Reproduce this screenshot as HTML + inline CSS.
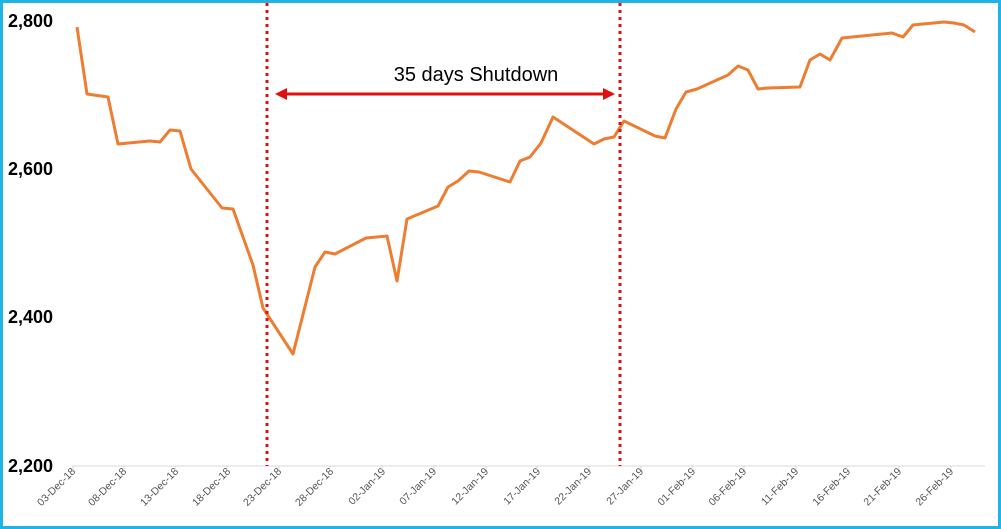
<!DOCTYPE html>
<html><head><style>
html,body{margin:0;padding:0;background:#fff}
svg{display:block}
</style></head><body>
<svg width="1001" height="529" xmlns="http://www.w3.org/2000/svg" font-family="Liberation Sans, Arial, sans-serif">
<rect x="1.5" y="1.5" width="998" height="526" fill="#fff" stroke="#1fb3e6" stroke-width="3"/>
<g font-weight="bold" font-size="18" fill="#000">
<text x="8" y="27">2,800</text>
<text x="8" y="175">2,600</text>
<text x="8" y="323">2,400</text>
<text x="8" y="472">2,200</text>
</g>
<line x1="72" y1="466" x2="985" y2="466" stroke="#d9d9d9" stroke-width="1"/>
<g font-size="10.5" fill="#555" text-anchor="end">
<g id="t"></g>
<text transform="translate(76,472) rotate(-45)">03-Dec-18</text>
<text transform="translate(127,472) rotate(-45)">08-Dec-18</text>
<text transform="translate(179,472) rotate(-45)">13-Dec-18</text>
<text transform="translate(231,472) rotate(-45)">18-Dec-18</text>
<text transform="translate(282,472) rotate(-45)">23-Dec-18</text>
<text transform="translate(334,472) rotate(-45)">28-Dec-18</text>
<text transform="translate(386,472) rotate(-45)">02-Jan-19</text>
<text transform="translate(437,472) rotate(-45)">07-Jan-19</text>
<text transform="translate(489,472) rotate(-45)">12-Jan-19</text>
<text transform="translate(541,472) rotate(-45)">17-Jan-19</text>
<text transform="translate(592,472) rotate(-45)">22-Jan-19</text>
<text transform="translate(644,472) rotate(-45)">27-Jan-19</text>
<text transform="translate(696,472) rotate(-45)">01-Feb-19</text>
<text transform="translate(747,472) rotate(-45)">06-Feb-19</text>
<text transform="translate(799,472) rotate(-45)">11-Feb-19</text>
<text transform="translate(851,472) rotate(-45)">16-Feb-19</text>
<text transform="translate(902,472) rotate(-45)">21-Feb-19</text>
<text transform="translate(954,472) rotate(-45)">26-Feb-19</text>
</g>
<g stroke="#d9d9d9">
<line x1="73" y1="466" x2="73" y2="470"/><line x1="124" y1="466" x2="124" y2="470"/><line x1="175" y1="466" x2="175" y2="470"/><line x1="227" y1="466" x2="227" y2="470"/><line x1="279" y1="466" x2="279" y2="470"/><line x1="330" y1="466" x2="330" y2="470"/><line x1="382" y1="466" x2="382" y2="470"/><line x1="434" y1="466" x2="434" y2="470"/><line x1="486" y1="466" x2="486" y2="470"/><line x1="537" y1="466" x2="537" y2="470"/><line x1="589" y1="466" x2="589" y2="470"/><line x1="641" y1="466" x2="641" y2="470"/><line x1="692" y1="466" x2="692" y2="470"/><line x1="744" y1="466" x2="744" y2="470"/><line x1="796" y1="466" x2="796" y2="470"/><line x1="847" y1="466" x2="847" y2="470"/><line x1="899" y1="466" x2="899" y2="470"/><line x1="951" y1="466" x2="951" y2="470"/>
</g>
<polyline fill="none" stroke="#ed7d31" stroke-width="3" stroke-linejoin="round" points="77,27 87,94 108,97 118,144 150,141 160,142 170,130 180,131 191,169 222,208 233,209 253,265 263,308 293,354 315,267 325,252 335,254 366,238 387,236 397,281 407,219 438,206 448,187 458,181 469,171 479,172 510,182 520,161 530,157 541,143 553,117 594,144 604,139 614,137 624,121 655,136 665,138 676,109 686,92 697,89 728,75 738,66 748,70 758,89 768,88 800,87 810,60 820,54 830,60 842,38 882,34 892,33 903,37 913,25 923,24 944,22 954,23 964,25 975,32"/>
<g stroke="#e01010" stroke-width="3" stroke-dasharray="3,4">
<line x1="267" y1="3" x2="267" y2="466"/>
<line x1="620" y1="3" x2="620" y2="466"/>
</g>
<line x1="284" y1="94" x2="606" y2="94" stroke="#e01010" stroke-width="3"/>
<polygon points="275,94 287,88 287,100" fill="#e01010"/>
<polygon points="615,94 603,88 603,100" fill="#e01010"/>
<text x="476" y="81" font-size="20" text-anchor="middle" fill="#000">35 days Shutdown</text>
</svg>
</body></html>
